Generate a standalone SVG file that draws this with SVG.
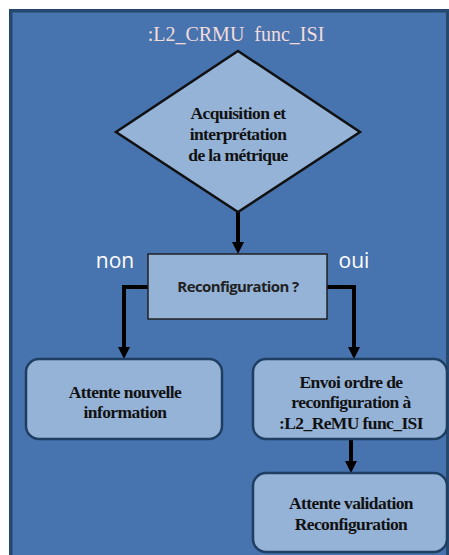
<svg xmlns="http://www.w3.org/2000/svg" width="449" height="555" viewBox="0 0 449 555">
<defs>
<style>
.frame{fill:#4773AE;stroke:#25486F;stroke-width:3.5}
.box{fill:#95B3D7;stroke:#1E3F62;stroke-width:2.5}
.dia{fill:#95B3D7;stroke:#111;stroke-width:2.5}
.q{fill:#95B3D7;stroke:#222;stroke-width:1.5}
.conn{fill:none;stroke:#000;stroke-width:4}
.t{font-family:"Liberation Serif","Times New Roman",serif;font-weight:bold;font-size:17.5px;fill:#111;text-anchor:middle;letter-spacing:-0.6px}
.title{font-family:"Liberation Serif","Times New Roman",serif;font-size:20px;fill:#F2DCDB;text-anchor:middle;white-space:pre}
.lbl{font-family:"Open Sans","DejaVu Sans",sans-serif;font-size:21px;fill:#FFFFFF;text-anchor:middle}
.qt{font-family:"Open Sans","DejaVu Sans",sans-serif;font-weight:bold;font-size:15px;fill:#222;text-anchor:middle;letter-spacing:-0.6px}
</style>
<marker id="ah" viewBox="0 0 12 12" refX="2" refY="6" markerWidth="12" markerHeight="12" markerUnits="userSpaceOnUse" orient="auto">
<path d="M0,0 L12,6 L0,12 z" fill="#000"/>
</marker>
</defs>
<rect x="0" y="0" width="449" height="555" fill="#FFFFFF"/>
<g id="frame">
<rect class="frame" x="10.75" y="10.75" width="437" height="560"/>
<text class="title" x="236" y="41" xml:space="preserve">:L2_CRMU  func_ISI</text>
</g>
<g id="connectors">
<line class="conn" x1="238" y1="212" x2="238" y2="244" marker-end="url(#ah)"/>
<polyline class="conn" points="148,287 124,287 124,349" marker-end="url(#ah)"/>
<polyline class="conn" points="327,287 354,287 354,349" marker-end="url(#ah)"/>
<line class="conn" x1="351" y1="440" x2="351" y2="463" marker-end="url(#ah)"/>
</g>
<g id="acquisition">
<polygon class="dia" points="238,51 360,132 238,212 116,132"/>
<text class="t" x="238" y="119">Acquisition et</text>
<text class="t" x="238" y="140">interprétation</text>
<text class="t" x="238" y="161">de la métrique</text>
</g>
<g id="reconfiguration">
<rect class="q" x="148" y="254" width="179" height="65"/>
<text class="qt" x="238" y="292">Reconfiguration ?</text>
</g>
<g id="label-non"><text class="lbl" x="115" y="268">non</text></g>
<g id="label-oui"><text class="lbl" x="354" y="268">oui</text></g>
<g id="attente-info">
<rect class="box" x="26" y="359" width="196" height="80" rx="13"/>
<text class="t" x="125" y="398">Attente nouvelle</text>
<text class="t" x="125" y="418">information</text>
</g>
<g id="envoi-ordre">
<rect class="box" x="253" y="359" width="194" height="80" rx="13"/>
<text class="t" x="351" y="388">Envoi ordre de</text>
<text class="t" x="351" y="408">reconfiguration à</text>
<text class="t" x="351" y="429">:L2_ReMU func_ISI</text>
</g>
<g id="attente-validation">
<rect class="box" x="253" y="473" width="194" height="79" rx="13"/>
<text class="t" x="351" y="509">Attente validation</text>
<text class="t" x="351" y="530">Reconfiguration</text>
</g>
</svg>
